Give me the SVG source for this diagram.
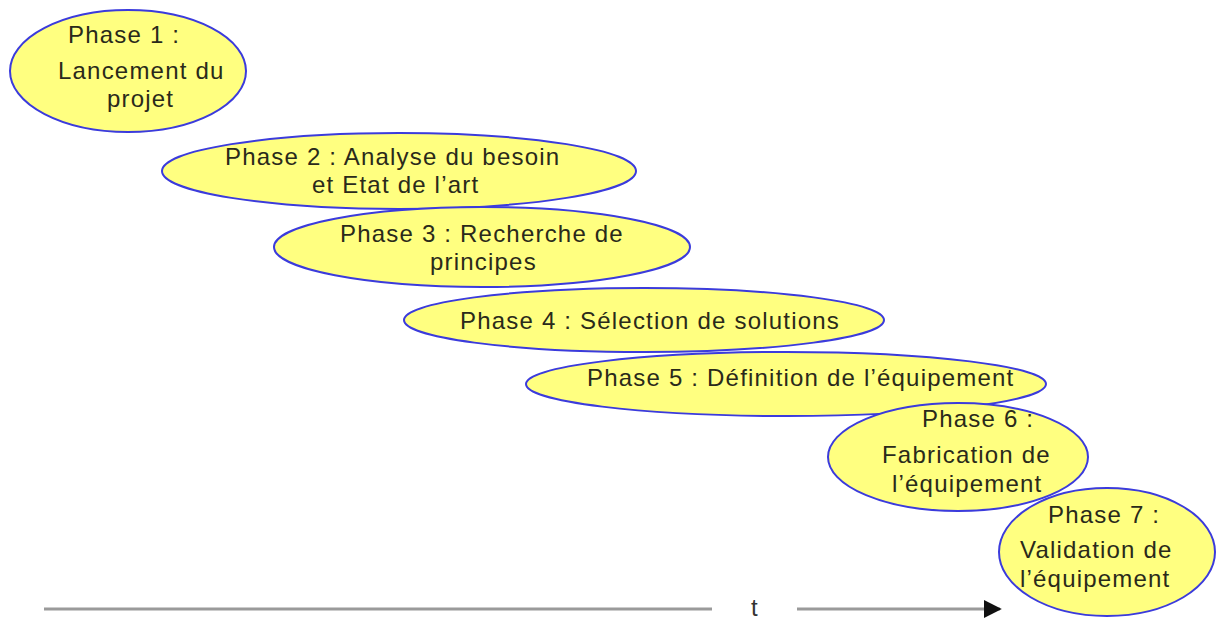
<svg xmlns="http://www.w3.org/2000/svg" width="1218" height="622" viewBox="0 0 1218 622">
<defs>
<style>
.n{fill:#ffff80;stroke:#3b3bdc;stroke-width:2}
.t{font-family:"Liberation Sans",Arial,sans-serif;font-size:24px;letter-spacing:1.2px;fill:#2a2a1a}
.ax{stroke:#9a9a9a;stroke-width:3;fill:none}
</style>
<marker id="ah" viewBox="0 0 10 10" refX="9" refY="5" markerWidth="6" markerHeight="6" markerUnits="strokeWidth" orient="auto"><path d="M0,0L10,5L0,10z" fill="#111"/></marker>
</defs>
<rect width="1218" height="622" fill="#fff"/>
<g id="phase1"><ellipse class="n" cx="128" cy="71" rx="118" ry="61"/>
<text class="t" x="68" y="43">Phase 1 :</text><text class="t" x="58" y="79">Lancement du</text><text class="t" x="107" y="107">projet</text></g>
<g id="phase2"><ellipse class="n" cx="399" cy="171" rx="237" ry="38"/>
<text class="t" x="225" y="165">Phase 2 : Analyse du besoin</text><text class="t" x="312" y="193">et Etat de l’art</text></g>
<g id="phase3"><ellipse class="n" cx="482" cy="247" rx="208" ry="40"/>
<text class="t" x="340" y="242">Phase 3 : Recherche de</text><text class="t" x="430" y="270">principes</text></g>
<g id="phase4"><ellipse class="n" cx="644" cy="320" rx="240" ry="32"/>
<text class="t" x="460" y="329">Phase 4 : Sélection de solutions</text></g>
<g id="phase5"><ellipse class="n" cx="786" cy="384" rx="260" ry="32"/>
<text class="t" x="587" y="386">Phase 5 : Définition de l’équipement</text></g>
<g id="phase6"><ellipse class="n" cx="958" cy="457" rx="130" ry="54"/>
<text class="t" x="922" y="427">Phase 6 :</text><text class="t" x="882" y="463">Fabrication de</text><text class="t" x="892" y="492">l’équipement</text></g>
<g id="phase7"><ellipse class="n" cx="1107" cy="552" rx="108" ry="64"/>
<text class="t" x="1048" y="523">Phase 7 :</text><text class="t" x="1020" y="558">Validation de</text><text class="t" x="1020" y="587">l’équipement</text></g>
<g id="connectors">
<line class="ax" x1="44" y1="609" x2="712" y2="609"/>
<line class="ax" x1="797" y1="609" x2="1000" y2="609" marker-end="url(#ah)"/>
</g>
<text class="t" x="755" y="616" text-anchor="middle" style="fill:#333">t</text>
</svg>
